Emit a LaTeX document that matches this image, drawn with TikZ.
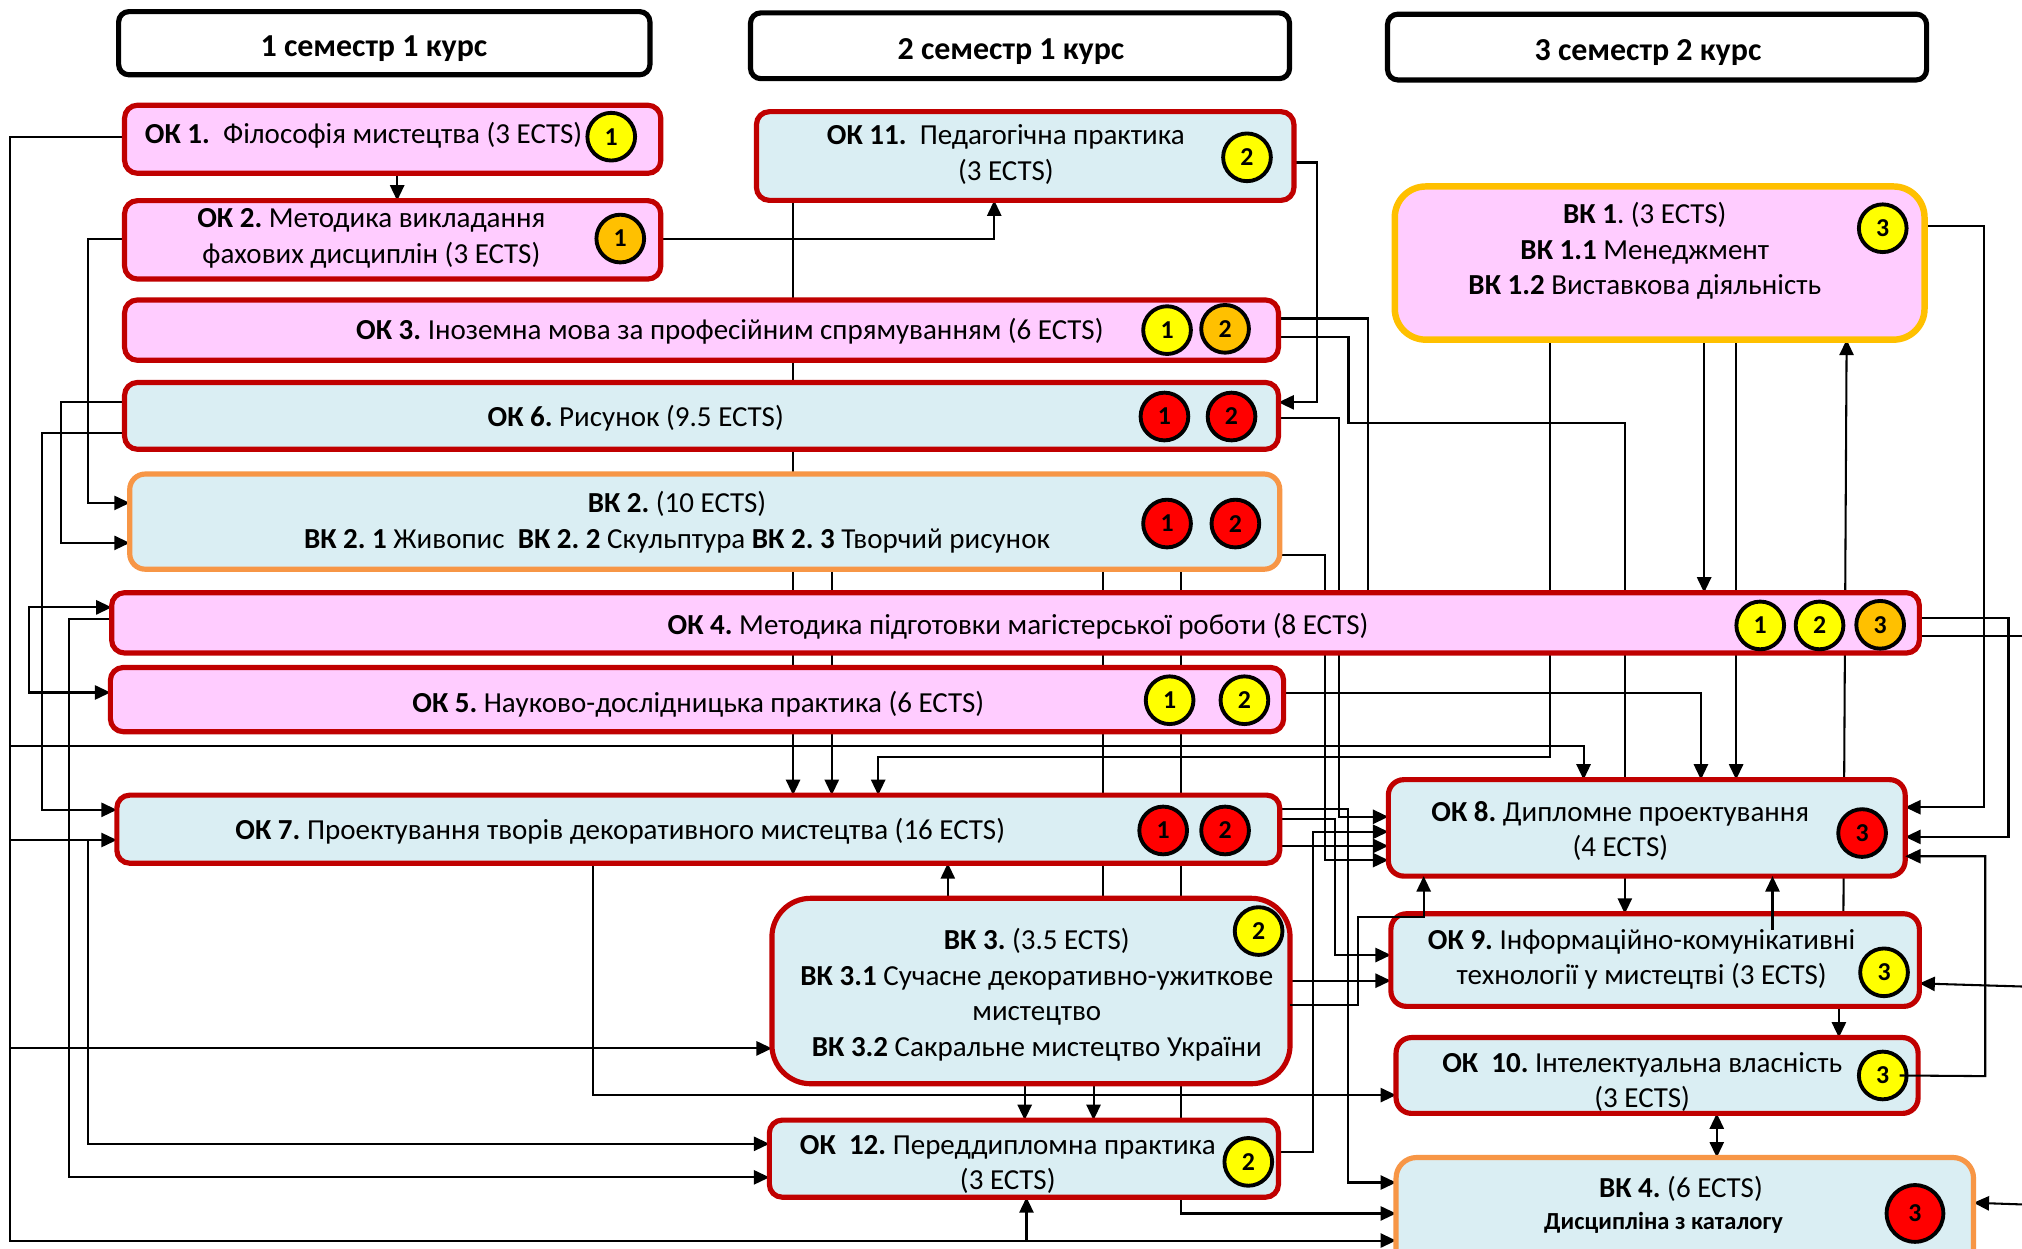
\documentclass[tikz,border=0pt]{standalone}
\usepackage{fontspec}
\setmainfont{Carlito}
\usetikzlibrary{arrows.meta}
\definecolor{bred}{HTML}{C00000}
\definecolor{pinkf}{HTML}{FFCCFF}
\definecolor{bluef}{HTML}{DAEEF3}
\definecolor{orb}{HTML}{F79646}
\definecolor{goldb}{HTML}{FFC000}
\definecolor{yel}{HTML}{FFFF00}
\definecolor{org}{HTML}{FFC000}
\definecolor{rd}{HTML}{FF0000}
\frenchspacing
\begin{document}
\begin{tikzpicture}[x=0.5pt,y=-0.5pt,
 ln/.style={line width=0.8pt,draw=black},
 arr/.style={ln,-{Triangle[length=6pt,width=5.5pt]}},
 arrb/.style={ln,{Triangle[length=6pt,width=5.5pt]}-{Triangle[length=6pt,width=5.5pt]}},
 hdr/.style={draw=black,line width=2pt,rounded corners=4pt,fill=white,inner sep=0pt},
 okbox/.style={draw=bred,line width=2pt,rounded corners=5pt,inner sep=0pt},
 pinkbox/.style={okbox,fill=pinkf},
 bluebox/.style={okbox,fill=bluef},
 geo/.style={inner sep=0pt},
 txt/.style={align=center,inner sep=0pt,font=\fontsize{11.25}{13.75}\selectfont},
 htxt/.style={inner sep=0pt,font=\bfseries\fontsize{12.4}{14}\selectfont},
 badge/.style={circle,draw=black,line width=1.5pt,minimum size=18.5pt,inner sep=0pt,font=\bfseries\fontsize{10}{12}\selectfont},
 by/.style={badge,fill=yel}, bo/.style={badge,fill=org}, br/.style={badge,fill=rd}]
\useasboundingbox (0,0) rectangle (1568,968);
\fill[white] (0,0) rectangle (1568,968);

% ---------- headers ----------
\path
 (298,33.5) node[hdr,minimum width=206pt,minimum height=24.5pt] (h1) {}
 (791,35.5) node[hdr,minimum width=209pt,minimum height=25.5pt] (h2) {}
 (1285,36.5) node[hdr,minimum width=209pt,minimum height=25.5pt] (h3) {};

% ---------- box geometry (drawn after the connectors) ----------
\path
 (304.5,108) node[geo,minimum width=207.5pt,minimum height=26pt] (ok1) {}
 (304.5,186) node[geo,minimum width=207.5pt,minimum height=30pt] (ok2) {}
 (544,256) node[geo,minimum width=447pt,minimum height=23pt] (ok3) {}
 (544,322.5) node[geo,minimum width=447pt,minimum height=25.5pt] (ok6) {}
 (546.5,404.5) node[geo,minimum width=445.5pt,minimum height=36.5pt] (vk2) {}
 (787.5,483) node[geo,minimum width=700.5pt,minimum height=23pt] (ok4) {}
 (540.5,542.5) node[geo,minimum width=454.5pt,minimum height=24.5pt] (ok5) {}
 (541.5,643) node[geo,minimum width=450.5pt,minimum height=26pt] (ok7) {}
 (799.5,768.5) node[geo,minimum width=200.5pt,minimum height=71.5pt] (vk3) {}
 (794,898.5) node[geo,minimum width=197pt,minimum height=29.5pt] (ok12) {}
 (795,121) node[geo,minimum width=208pt,minimum height=34pt] (ok11) {}
 (1287,204) node[geo,minimum width=205pt,minimum height=59pt] (vk1) {}
 (1277,642) node[geo,minimum width=200pt,minimum height=37pt] (ok8) {}
 (1283.5,744.5) node[geo,minimum width=204.5pt,minimum height=35.5pt] (ok9) {}
 (1285,834) node[geo,minimum width=202pt,minimum height=29pt] (ok10) {}
 (1306.5,949) node[geo,minimum width=223.5pt,minimum height=51pt] (vk4) {};

% junction / free-end coordinates
\coordinate (jA) at (8,578.5);
\coordinate (jB) at (8,651.4);
\coordinate (jC) at (68.5,651.4);
\coordinate (jD) at (8,813);
\coordinate (jE) at (796,962);
\coordinate (jF) at (22.5,505);
\coordinate (eR1) at (1568,493);
\coordinate (eR2) at (1568,765);
\coordinate (eR3) at (1568,934);
\coordinate (s34) at (1374.5,721.3);

% ---------- connectors behind boxes ----------
\draw[arr] (ok1.west |- 0,106) -- (8,106) -- (8,962) -- (vk4.west |- 0,962);
\draw[arr] (jA) -- (1228,578.5) -- (ok8.north -| 1228,0);
\draw[arr] (jB) -- (ok7.west |- 0,651.4);
\draw[arr] (jC) -- (68.5,887) -- (ok12.west |- 0,887);
\draw[arr] (jD) -- (vk3.west |- 0,813);
\draw[arr] (jE) -- (ok12.south -| 796,0);
\draw[arr] (ok1.south -| 308,0) -- (ok2.north -| 308,0);
\draw[arr] (ok2.east |- 0,185) -- (771,185) -- (ok11.south -| 771,0);
\draw[arr] (ok2.west |- 0,185) -- (68,185) -- (68,390) -- (vk2.west |- 0,390);
\draw[arr] (ok6.west |- 0,312) -- (47,312) -- (47,421) -- (vk2.west |- 0,421);
\draw[arr] (ok6.west |- 0,336) -- (32.3,336) -- (32.3,628) -- (ok7.west |- 0,628);
\draw[arr] (jF) -- (22.5,471) -- (ok4.west |- 0,471);
\draw[arr] (jF) -- (22.5,537) -- (ok5.west |- 0,537);
\draw[arr] (ok4.west |- 0,480) -- (53.5,480) -- (53.5,913) -- (ok12.west |- 0,913);
\draw[arr] (ok11.south -| 615,0) -- (ok7.north -| 615,0);
\draw[arr] (vk2.south -| 645,0) -- (ok7.north -| 645,0);
\draw[arr] (vk1.south -| 1201.6,0) -- (1201.6,587) -- (681,587) -- (ok7.north -| 681,0);
\draw[arr] (vk1.south -| 1321.5,0) -- (ok4.north -| 1321.5,0);
\draw[arr] (vk1.south -| 1346.3,0) -- (ok8.north -| 1346.3,0);
\draw[arr] (ok9.north -| 1429.5,0) -- (vk1.south -| 1432,0);
\draw[ln] (ok3.east |- 0,247) -- (1061,247) -- (ok4.north -| 1061,0);
\draw[ln] (ok3.east |- 0,261.6) -- (1045.7,261.6) -- (1045.7,328.3) -- (1260,328.3) -- (ok8.north -| 1260,0);
\draw[arr] (ok11.east |- 0,126) -- (1021,126) -- (1021,312) -- (ok6.east |- 0,312);
\draw[arr] (ok6.east |- 0,324.4) -- (1038,324.4) -- (1038,633.4) -- (ok8.west |- 0,633.4);
\draw[arr] (vk2.east |- 0,430.4) -- (1027.6,430.4) -- (1027.6,667) -- (ok8.west |- 0,667);
\draw[ln] (vk2.south -| 855,0) -- (vk3.north -| 855,0);
\draw[arr] (vk2.south -| 915.7,0) -- (915.7,941) -- (vk4.west |- 0,941);
\draw[arr] (ok5.east |- 0,537.7) -- (1319,537.7) -- (ok8.north -| 1319,0);
\draw[arr] (ok7.east |- 0,627.7) -- (1045.6,627.7) -- (1045.6,917) -- (vk4.west |- 0,917);
\draw[arr] (ok7.east |- 0,635) -- (1035.4,635) -- (1035.4,740.6) -- (ok9.west |- 0,740.6);
\draw[arr] (ok7.east |- 0,656) -- (ok8.west |- 0,656);
\draw[arr] (ok12.east |- 0,893) -- (1018.5,893) -- (1018.5,645) -- (ok8.west |- 0,645);
\draw[arr] (vk3.east |- 0,760.5) -- (ok9.west |- 0,760.5);
\draw[arr] (vk3.north -| 735,0) -- (ok7.south -| 735,0);
\draw[arr] (vk3.south -| 794.6,0) -- (ok12.north -| 794.6,0);
\draw[arr] (vk3.south -| 848,0) -- (ok12.north -| 848,0);
\draw[arr] (ok7.south -| 460,0) -- (460,849.2) -- (ok10.west |- 0,849.2);
\draw[arr] (ok8.south -| 1260,0) -- (ok9.north -| 1260,0);
\draw[arr] (ok9.south -| 1426,0) -- (ok10.north -| 1426,0);
\draw[arrb] (ok10.south -| 1331.3,0) -- (vk4.north -| 1331.3,0);
\draw[arr] (vk1.east |- 0,175) -- (1538.7,175) -- (1538.7,626) -- (ok8.east |- 0,626);
\draw[arr] (ok4.east |- 0,479.5) -- (1557.5,479.5) -- (1557.5,649) -- (ok8.east |- 0,649);
\draw[ln] (ok4.east |- 0,493) -- (eR1);
\draw[arr] (eR2) -- (ok9.east |- 0,762.6);
\draw[arr] (eR3) -- (vk4.east |- 0,932.7);

% ---------- boxes drawn ----------
\draw[pinkbox] (ok1.south west) rectangle (ok1.north east);
\draw[pinkbox] (ok2.south west) rectangle (ok2.north east);
\draw[pinkbox] (ok3.south west) rectangle (ok3.north east);
\draw[bluebox] (ok6.south west) rectangle (ok6.north east);
\draw[bluebox,draw=orb,rounded corners=6pt] (vk2.south west) rectangle (vk2.north east);
\draw[pinkbox] (ok4.south west) rectangle (ok4.north east);
\draw[pinkbox] (ok5.south west) rectangle (ok5.north east);
\draw[bluebox] (ok7.south west) rectangle (ok7.north east);
\draw[bluebox,rounded corners=15pt] (vk3.south west) rectangle (vk3.north east);
\draw[bluebox] (ok12.south west) rectangle (ok12.north east);
\draw[bluebox] (ok11.south west) rectangle (ok11.north east);
\draw[pinkbox,draw=goldb,line width=2.5pt,rounded corners=12pt] (vk1.south west) rectangle (vk1.north east);
\draw[bluebox,rounded corners=6pt] (ok8.south west) rectangle (ok8.north east);
\draw[bluebox,rounded corners=6pt] (ok9.south west) rectangle (ok9.north east);
\draw[bluebox,rounded corners=6pt] (ok10.south west) rectangle (ok10.north east);
\draw[bluebox,draw=orb,rounded corners=8pt] (vk4.south west) rectangle (vk4.north east);

% ---------- texts ----------
\node[htxt] (h1t) at (290,38) {1 семестр 1 курс};
\node[htxt] (h2t) at (784,40) {2 семестр 1 курс};
\node[htxt] (h3t) at (1278,41) {3 семестр 2 курс};
\node[txt] (ok1t) at (282,105) {\textbf{ОК 1.}\ \ Філософія мистецтва (3 ECTS)};
\node[txt] (ok2t) at (288,185) {\textbf{ОК 2.} Методика викладання\\фахових дисциплін (3 ECTS)};
\node[txt] (ok3t) at (566,257) {\textbf{ОК 3.} Іноземна мова за професійним спрямуванням (6 ECTS)};
\node[txt] (ok6t) at (493,324) {\textbf{ОК 6.} Рисунок (9.5 ECTS)};
\node[txt] (vk2t) at (525,405) {\textbf{ВК 2.} (10 ECTS)\\\textbf{ВК 2. 1} Живопис\ \ \textbf{ВК 2. 2} Скульптура \textbf{ВК 2. 3} Творчий рисунок};
\node[txt] (ok4t) at (789.5,486) {\textbf{ОК 4.} Методика підготовки магістерської роботи (8 ECTS)};
\node[txt] (ok5t) at (541.5,546) {\textbf{ОК 5.} Науково-дослідницька практика (6 ECTS)};
\node[txt] (ok7t) at (481,645) {\textbf{ОК 7.} Проектування творів декоративного мистецтва (16 ECTS)};
\node[txt] (vk3t) at (804,771.5) {\textbf{ВК 3.} (3.5 ECTS)\\\textbf{ВК 3.1} Сучасне декоративно-ужиткове\\мистецтво\\\textbf{ВК 3.2} Сакральне мистецтво України};
\node[txt] (ok12t) at (781.5,903) {\textbf{ОК\ \ 12.} Переддипломна практика\\(3 ECTS)};
\node[txt] (ok11t) at (780,120) {\textbf{ОК 11.}\ \ Педагогічна практика\\(3 ECTS)};
\node[txt] (vk1t) at (1275.5,194.5) {\textbf{ВК 1}. (3 ECTS)\\\textbf{ВК 1.1} Менеджмент\\\textbf{ВК 1.2} Виставкова діяльність};
\node[txt] (ok8t) at (1256.5,644.5) {\textbf{ОК 8.} Дипломне проектування\\(4 ECTS)};
\node[txt] (ok9t) at (1273,744) {\textbf{ОК 9.} Інформаційно-комунікативні\\технології у мистецтві (3 ECTS)};
\node[txt] (ok10t) at (1273.5,839) {\textbf{ОК\ \ 10.} Інтелектуальна власність\\(3 ECTS)};
\node[txt] (vk4a) at (1303.5,922) {\textbf{ВК 4.} (6 ECTS)};
\node[txt,font=\bfseries\fontsize{9.5}{11}\selectfont] (vk4b) at (1290,948) {Дисципліна з каталогу};

% ---------- badges ----------
\node[by] (b1) at (474,106) {1};
\node[bo] (b2) at (481,185) {1};
\node[by] (b3a) at (905,256) {1};
\node[bo] (b3b) at (950,255) {2};
\node[br] (b6a) at (903,323) {1};
\node[br] (b6b) at (955,323) {2};
\node[br] (bv2a) at (905,406) {1};
\node[br] (bv2b) at (958,406) {2};
\node[by] (b4a) at (1365,485) {1};
\node[by] (b4b) at (1411,485) {2};
\node[bo] (b4c) at (1458,484.5) {3};
\node[by] (b5a) at (907,543) {1};
\node[by] (b5b) at (965,543) {2};
\node[br] (b7a) at (902,644) {1};
\node[br] (b7b) at (950,644) {2};
\node[by] (bv3) at (976,722) {2};
\node[by] (b12) at (968,901) {2};
\node[by] (b11) at (967,122) {2};
\node[by] (bv1) at (1460,177) {3};
\node[br] (b8) at (1444,646) {3};
\node[by] (b9) at (1461,754) {3};
\node[by] (b10) at (1460,834) {3};
\node[br,minimum size=22pt] (bv4) at (1485,941) {3};

% ---------- connectors on top ----------
\draw[arr] (vk3.east |- 0,779.4) -- (1053.4,779.4) -- (1053.4,711) -- (1104,711) -- (ok8.south -| 1104,0);
\draw[arr] (s34) -- (ok8.south -| 1374.5,0);
\draw[arr] ([xshift=6.5pt]b10.center) -- (1539.5,834.5) -- (1539.5,664) -- (ok8.east |- 0,664);
\end{tikzpicture}
\end{document}
